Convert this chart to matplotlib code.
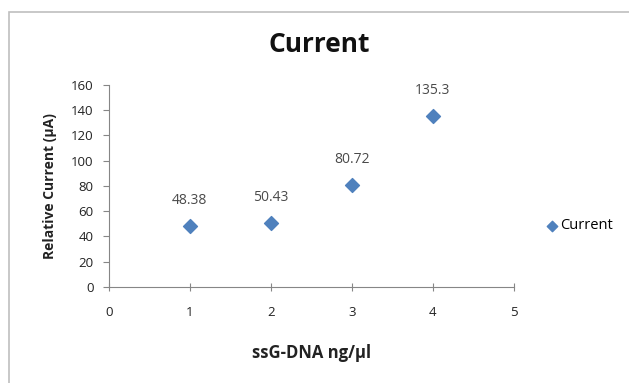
import matplotlib.pyplot as plt
from matplotlib.patches import Rectangle

# data
conc = [1, 2, 3, 4]
current = [48.38, 50.43, 80.72, 135.3]
labels = ["48.38", "50.43", "80.72", "135.3"]
xticks = [0, 1, 2, 3, 4, 5]
yticks = [0, 20, 40, 60, 80, 100, 120, 140, 160]

plt.rcParams['font.family'] = ['Open Sans', 'DejaVu Sans']

fig = plt.figure(figsize=(6.29, 3.83), dpi=100)
ax = fig.add_axes([0.173, 0.251, 0.644, 0.527])

# outer chart frame
fig.patches.append(Rectangle((9 / 629, -0.1), 1.2, 1.1 - 12 / 383,
                             transform=fig.transFigure, fill=False,
                             edgecolor='#bfbfbf', linewidth=1.2))

ax.scatter(conc, current, marker='D', s=50, color='#4f81bd', zorder=3, label='Current')
for x, y, t in zip(conc, current, labels):
    ax.annotate(t, (x, y), xytext=(0, 13), textcoords='offset points',
                ha='center', va='bottom', fontsize=10, color='#4a4a4a')

ax.set_xlim(0, 5)
ax.set_ylim(0, 160)
ax.set_xticks(xticks)
ax.set_yticks(yticks)
for s in ['top', 'right']:
    ax.spines[s].set_visible(False)
for s in ['left', 'bottom']:
    ax.spines[s].set_color('#868686')
ax.tick_params(axis='both', colors='#868686', labelcolor='#222222', labelsize=9.5, length=4, pad=7)
ax.tick_params(axis='x', direction='inout', length=6, pad=11)

ax.set_xlabel('ssG-DNA ng/µl', fontsize=12, fontweight='bold', color='#222222', labelpad=18)
ax.set_ylabel('Relative Current (µA)', fontsize=10, fontweight='bold', color='#222222', labelpad=10)
fig.text(0.508, 0.884, 'Current', ha='center', va='center', fontsize=19, fontweight='bold', color='#111111')

fig.legend(loc='center left', bbox_to_anchor=(0.845, 0.41), frameon=False,
           handletextpad=0.05, fontsize=10.5, markerscale=0.75, handlelength=1)

fig.savefig('out.png', dpi=100)
